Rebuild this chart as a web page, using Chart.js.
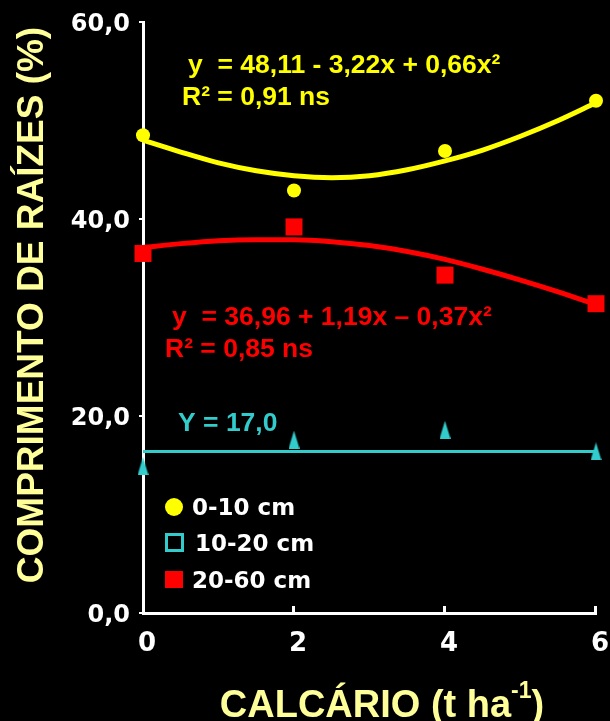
<!DOCTYPE html>
<html>
<head>
<meta charset="utf-8">
<script src="https://cdn.jsdelivr.net/npm/chart.js@4/dist/chart.umd.min.js"></script>
<style>
html,body{margin:0;padding:0;background:#000;}
canvas{display:block;}
</style>
</head>
<body>
<canvas id="c" width="610" height="721"></canvas>
<script>
// ---- data ----
const doses = [0, 2, 4, 6];                       // calcário (t/ha)
const depth0_10 = [48.5, 42.9, 46.9, 52.0];       // 0-10 cm (observed)
const depth10_20 = [14.9, 17.6, 18.6, 16.4];      // 10-20 cm (observed)
const depth20_60 = [36.5, 39.2, 34.3, 31.4];      // 20-60 cm (observed)

const curveX = [0, 0.5, 1, 1.5, 2, 2.5, 3, 3.5, 4, 4.5, 5, 5.5, 6];
const fit0_10 = [48.0, 46.8, 45.7, 44.9, 44.4, 44.2, 44.4, 45.0, 45.9, 47.0, 48.4, 50.0, 51.8];
const fit20_60 = [37.1, 37.5, 37.8, 37.9, 37.9, 37.7, 37.3, 36.7, 35.9, 34.9, 33.8, 32.6, 31.3];
const meanX = [0, 6];
const mean10_20 = [16.4, 16.4];

const xTicks = [0, 2, 4, 6];
const yTicks = [0, 20, 40, 60];

const seriesNames = ['0-10 cm', '10-20 cm', '20-60 cm'];
const eq0_10 = ['y  = 48,11 - 3,22x + 0,66x²', 'R² = 0,91 ns'];
const eq20_60 = ['y  = 36,96 + 1,19x – 0,37x²', 'R² = 0,85 ns'];
const eq10_20 = 'Y = 17,0';
const xTitle = ['CALCÁRIO (t ha', '-1', ')'];
const yTitle = 'COMPRIMENTO DE RAÍZES (%)';

// ---- styles ----
const YEL = '#FFFF00', RED = '#FF0000', TEAL = '#33CCCC', TITLE = '#FFFF99', WHITE = '#FFFFFF';

const tri = document.createElement('canvas');
tri.width = 11; tri.height = 18;
(function(){const t=tri.getContext('2d');t.fillStyle=TEAL;t.beginPath();t.moveTo(5.5,0);t.lineTo(11,18);t.lineTo(0,18);t.closePath();t.fill();})();

const pts = (xs, ys) => xs.map((x, i) => ({x, y: ys[i]}));

const annot = {
  id: 'annot',
  afterDraw(chart) {
    const ctx = chart.ctx;
    const xs = chart.scales.x;
    const area = chart.chartArea;
    ctx.save();
    // inward x ticks
    ctx.strokeStyle = WHITE; ctx.lineWidth = 3;
    xTicks.slice(1).forEach(v => {
      const px = Math.round(xs.getPixelForValue(v)) - 0.5;
      ctx.beginPath(); ctx.moveTo(px, area.bottom); ctx.lineTo(px, area.bottom - 7); ctx.stroke();
    });
    ctx.textAlign = 'left'; ctx.textBaseline = 'alphabetic';
    // equations
    ctx.font = 'bold 26.5px "Liberation Sans", Arial, sans-serif';
    ctx.fillStyle = YEL;
    ctx.fillText(eq0_10[0], 188, 73);
    ctx.fillText(eq0_10[1], 182, 105);
    ctx.fillStyle = RED;
    ctx.fillText(eq20_60[0], 172, 325);
    ctx.fillText(eq20_60[1], 165, 357);
    ctx.fillStyle = TEAL;
    ctx.fillText(eq10_20, 178, 431);
    // legend
    ctx.fillStyle = YEL;
    ctx.beginPath(); ctx.arc(174, 507, 9, 0, Math.PI * 2); ctx.fill();
    ctx.strokeStyle = TEAL; ctx.lineWidth = 3;
    ctx.strokeRect(166.5, 534.5, 16, 16);
    ctx.fillStyle = RED;
    ctx.fillRect(165, 571, 18, 17);
    ctx.font = 'bold 23px "DejaVu Sans", Verdana, sans-serif';
    ctx.fillStyle = WHITE;
    ctx.fillText(seriesNames[0], 192, 515);
    ctx.fillText(seriesNames[1], 195, 551);
    ctx.fillText(seriesNames[2], 192, 588);
    // x title with superscript
    ctx.fillStyle = TITLE;
    const fBig = 'bold 38px "Liberation Sans", Arial, sans-serif';
    const fSup = 'bold 23px "Liberation Sans", Arial, sans-serif';
    ctx.font = fBig; const w1 = ctx.measureText(xTitle[0]).width; const w3 = ctx.measureText(xTitle[2]).width;
    ctx.font = fSup; const w2 = ctx.measureText(xTitle[1]).width;
    let sx = 382 - (w1 + w2 + w3) / 2;
    ctx.font = fBig; ctx.fillText(xTitle[0], sx, 717);
    ctx.font = fSup; ctx.fillText(xTitle[1], sx + w1, 698);
    ctx.font = fBig; ctx.fillText(xTitle[2], sx + w1 + w2, 717);
    // y title
    ctx.translate(43, 305); ctx.rotate(-Math.PI / 2);
    ctx.font = 'bold 37px "Liberation Sans", Arial, sans-serif';
    ctx.textAlign = 'center';
    ctx.fillText(yTitle, 0, 0);
    ctx.restore();
  }
};

new Chart(document.getElementById('c'), {
  type: 'scatter',
  data: {
    datasets: [
      {label: seriesNames[0], data: pts(doses, depth0_10), backgroundColor: YEL, borderColor: YEL, pointStyle: 'circle', pointRadius: 7, pointBorderWidth: 0, order: 0},
      {label: seriesNames[1], data: pts(doses, depth10_20), pointStyle: tri, pointRadius: 9, order: 0},
      {label: seriesNames[2], data: pts(doses, depth20_60), backgroundColor: RED, borderColor: RED, pointStyle: 'rect', pointRadius: 12, pointBorderWidth: 0, order: 0},
      {type: 'line', label: 'fit0_10', data: pts(curveX, fit0_10), borderColor: YEL, borderWidth: 5, pointRadius: 0, cubicInterpolationMode: 'monotone', fill: false, order: 1},
      {type: 'line', label: 'fit20_60', data: pts(curveX, fit20_60), borderColor: RED, borderWidth: 5, pointRadius: 0, cubicInterpolationMode: 'monotone', fill: false, order: 1},
      {type: 'line', label: 'mean10_20', data: pts(meanX, mean10_20), borderColor: TEAL, borderWidth: 3, pointRadius: 0, fill: false, order: 1}
    ]
  },
  options: {
    responsive: false,
    animation: false,
    devicePixelRatio: 1,
    clip: false,
    layout: {padding: {top: 22, right: 14, left: 0, bottom: 0}},
    plugins: {legend: {display: false}, tooltip: {enabled: false}},
    scales: {
      x: {
        type: 'linear', min: 0, max: 6,
        afterBuildTicks: s => { s.ticks = xTicks.map(v => ({value: v})); },
        afterFit: s => { s.height = 108; s.paddingLeft = 0; s.paddingRight = 0; },
        border: {color: WHITE, width: 3},
        grid: {display: true, drawOnChartArea: false, drawTicks: false, color: 'rgba(0,0,0,0)'},
        ticks: {color: WHITE, padding: 16, labelOffset: 4, font: {family: '"DejaVu Sans", Verdana, sans-serif', size: 26, weight: 'bold'}, maxRotation: 0}
      },
      y: {
        type: 'linear', min: 0, max: 60,
        afterBuildTicks: s => { s.ticks = yTicks.map(v => ({value: v})); },
        afterFit: s => { s.width = 143; s.paddingTop = 0; s.paddingBottom = 0; },
        border: {color: WHITE, width: 3},
        grid: {display: true, drawOnChartArea: false, drawTicks: true, tickLength: 4, color: WHITE, lineWidth: 2},
        ticks: {color: WHITE, padding: 9, labelOffset: 3, font: {family: '"DejaVu Sans", Verdana, sans-serif', size: 24, weight: 'bold'},
                callback: v => v.toFixed(1).replace('.', ',')}
      }
    }
  },
  plugins: [annot]
});
</script>
</body>
</html>
